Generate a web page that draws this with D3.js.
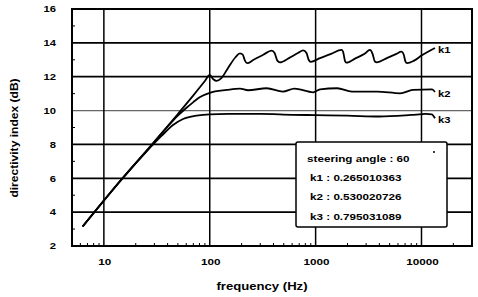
<!DOCTYPE html>
<html>
<head>
<meta charset="utf-8">
<script src="https://cdn.jsdelivr.net/npm/d3@7/dist/d3.min.js"></script>
<style>
  body { margin: 0; background: #fff; }
  text { font-family: "Liberation Sans", Arial, sans-serif; font-weight: bold; fill: #000; }
</style>
</head>
<body>
<script>
var width = 478,
    height = 297;

// values
var seriesNames = ["k1", "k2", "k3"];

var freqK1 = [6.3, 15, 29, 50, 70, 90, 100, 108, 116, 128, 150, 175, 193, 205, 215, 225, 260, 320, 385, 410, 435, 460,
              560, 680, 764, 820, 860, 900, 1100, 1400, 1760, 1830, 1890, 1950, 2400, 2900, 3260, 3450, 3630, 3800,
              4700, 5800, 6460, 6800, 7050, 7300, 8500, 10000, 13400];
var dbK1 = [3.15, 6.0, 8.05, 9.8, 10.9, 11.75, 12.1, 11.85, 11.75, 11.9, 12.55, 13.15, 13.38, 13.3, 12.95, 12.8, 13.0, 13.3, 13.54, 13.4, 12.95, 12.85,
            13.1, 13.4, 13.56, 13.4, 13.0, 12.88, 13.1, 13.35, 13.58, 13.4, 12.95, 12.83, 13.1, 13.35, 13.58, 13.35, 12.9, 12.85,
            13.1, 13.35, 13.48, 13.3, 12.9, 12.8, 12.95, 13.25, 13.7];

var freqK2 = [6.3, 15, 29, 40, 50, 60, 70, 81, 100, 145, 193, 230, 345, 490, 630, 950, 1100, 1600, 2200, 3800, 6300, 8300, 12600, 13400];
var dbK2 = [3.15, 6.0, 8.05, 9.05, 9.7, 10.15, 10.5, 10.8, 11.05, 11.22, 11.3, 11.2, 11.32, 11.12, 11.3, 11.08, 11.25, 11.32, 11.12, 11.12, 11.02, 11.22, 11.25, 11.1];

var freqK3 = [6.3, 15, 25, 35, 45, 56, 75, 100, 150, 300, 600, 1000, 2000, 4000, 8000, 11000, 12500, 13400];
var dbK3 = [3.15, 6.0, 7.55, 8.5, 9.15, 9.5, 9.7, 9.78, 9.8, 9.8, 9.75, 9.73, 9.7, 9.65, 9.74, 9.8, 9.78, 9.55];

var xTicks = [10, 100, 1000, 10000];
var yTicks = [2, 4, 6, 8, 10, 12, 14, 16];
var legendLines = ["steering angle : 60", "k1 : 0.265010363", "k2 : 0.530020726", "k3 : 0.795031089"];

var series = [
  { name: seriesNames[0], freq: freqK1, db: dbK1 },
  { name: seriesNames[1], freq: freqK2, db: dbK2 },
  { name: seriesNames[2], freq: freqK3, db: dbK3 }
];

var x = d3.scaleLog().domain([5, 30000]).range([72, 472]);
var y = d3.scaleLinear().domain([2, 16]).range([246, 9]);

var svg = d3.select("body").append("svg")
    .attr("width", width)
    .attr("height", height);

// text in the scan is stretched sideways, so squeeze it back with a scale
function label(g, str, px, py, size, sx, anchor, rot) {
  var t = g.append("g")
      .attr("transform", "translate(" + px + "," + py + ")" + (rot ? " rotate(" + rot + ")" : "") + " scale(" + sx + ",1)");
  t.append("text")
      .attr("font-size", size)
      .attr("text-anchor", anchor || "start")
      .text(str);
  return t;
}

var grid = svg.append("g");

// horizontal grid
grid.selectAll("line.h")
    .data(yTicks.slice(1, -1))
    .enter().append("line")
    .attr("x1", x.range()[0]).attr("x2", x.range()[1])
    .attr("y1", function(d) { return y(d); })
    .attr("y2", function(d) { return y(d); })
    .attr("stroke", function(d) { return d === 10 ? "#666" : "#000"; })
    .attr("stroke-width", function(d) { return d === 10 ? 1.3 : 1.8; });

// vertical grid
grid.selectAll("line.v")
    .data(xTicks)
    .enter().append("line")
    .attr("y1", y.range()[0]).attr("y2", y.range()[1])
    .attr("x1", function(d) { return x(d); })
    .attr("x2", function(d) { return x(d); })
    .attr("stroke", "#000")
    .attr("stroke-width", 1.5);

// minor ticks on the axes
var minorX = x.ticks().filter(function(d) { return xTicks.indexOf(d) < 0 && d > x.domain()[0] && d < x.domain()[1]; });
grid.selectAll("line.mx")
    .data(minorX)
    .enter().append("line")
    .attr("x1", function(d) { return x(d); })
    .attr("x2", function(d) { return x(d); })
    .attr("y1", y.range()[0]).attr("y2", y.range()[0] - 3)
    .attr("stroke", "#000").attr("stroke-width", 1);

grid.selectAll("line.my")
    .data(d3.range(3, 16, 2))
    .enter().append("line")
    .attr("x1", x.range()[0]).attr("x2", x.range()[0] + 3)
    .attr("y1", function(d) { return y(d); })
    .attr("y2", function(d) { return y(d); })
    .attr("stroke", "#000").attr("stroke-width", 1);

// frame
svg.append("rect")
    .attr("x", x.range()[0]).attr("y", y.range()[1])
    .attr("width", x.range()[1] - x.range()[0])
    .attr("height", y.range()[0] - y.range()[1])
    .attr("fill", "none")
    .attr("stroke", "#000")
    .attr("stroke-width", 2);

// curves
var line = d3.line()
    .x(function(d) { return x(d[0]); })
    .y(function(d) { return y(d[1]); })
    .curve(d3.curveMonotoneX);

series.forEach(function(s) {
  var pts = s.freq.map(function(f, i) { return [f, s.db[i]]; });
  svg.append("path")
      .datum(pts)
      .attr("d", line)
      .attr("fill", "none")
      .attr("stroke", "#000")
      .attr("stroke-width", 1.8)
      .attr("stroke-linejoin", "round");
  var last = pts[pts.length - 1];
  label(svg, s.name, x(last[0]) + 3, y(last[1]) + 5, 9, 1.25);
});

// tick labels
var labels = svg.append("g");
yTicks.forEach(function(d) {
  label(labels, d, 56, y(d) + 3.3, 9, 1.25, "end");
});
xTicks.forEach(function(d) {
  label(labels, d, x(d) + 1, 265, 9, 1.3, "middle");
});

// axis titles
label(labels, "frequency (Hz)", 262, 290, 10.5, 1.25, "middle");
label(labels, "directivity index (dB)", 18, 138, 10.5, 1.15, "middle", -90);

// legend box
var legend = svg.append("g");
legend.append("rect")
    .attr("x", 296).attr("y", 142)
    .attr("width", 151).attr("height", 85)
    .attr("rx", 2)
    .attr("fill", "#fff")
    .attr("stroke", "#000")
    .attr("stroke-width", 1.5);
legend.append("circle")
    .attr("cx", 434).attr("cy", 152).attr("r", 1)
    .attr("fill", "#000");
legendLines.forEach(function(str, i) {
  label(legend, str, i === 0 ? 307 : 310, 162 + i * 19.2, 9, 1.3);
});
</script>
</body>
</html>
